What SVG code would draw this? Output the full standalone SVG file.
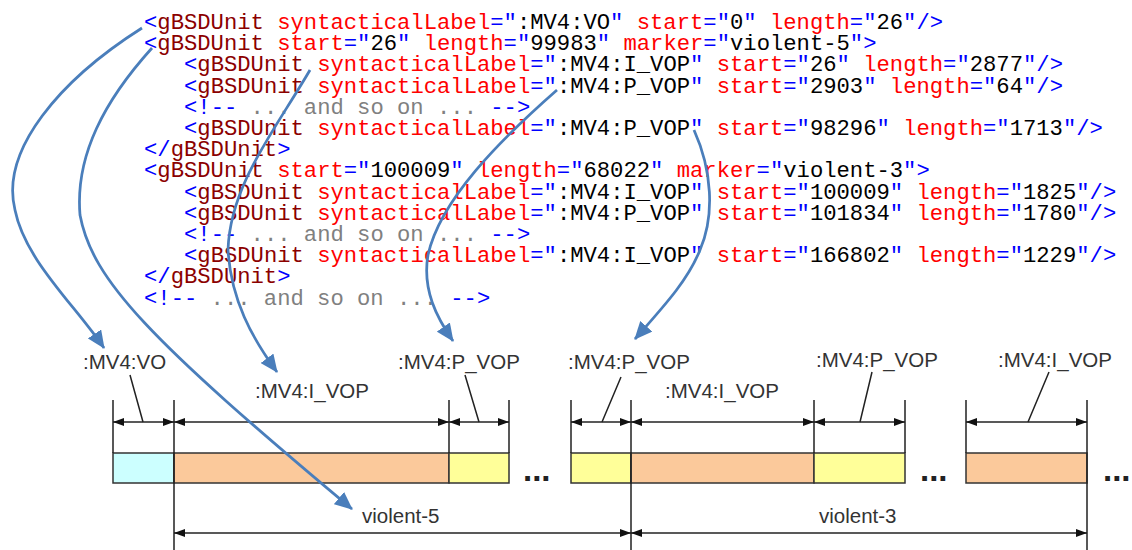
<svg xmlns="http://www.w3.org/2000/svg" width="1132" height="550" viewBox="0 0 1132 550">
  <defs>
    <style>
      .code { font-family: "Liberation Mono", "DejaVu Sans Mono", monospace; font-size: 22.2px; fill: #000; }
      .d { fill: #0000ff; }
      .e { fill: #8b0000; }
      .a { fill: #ff0000; }
      .c { fill: #808080; }
      .lbl { font-family: "Liberation Sans", Arial, sans-serif; font-size: 20.5px; fill: #333; }
      .dots { font-family: "Liberation Sans", Arial, sans-serif; font-size: 33px; font-weight: bold; fill: #222; }
      .seg { stroke: #333; stroke-width: 1.5; }
      .vo { fill: #ccffff; }
      .ivop { fill: #fbc99b; }
      .pvop { fill: #ffff99; }
      .tick { stroke: #222; stroke-width: 1.5; fill: none; }
      .dim { stroke: #222; stroke-width: 1.5; fill: none; marker-start: url(#dimhead); marker-end: url(#dimhead); }
      .lead { stroke: #222; stroke-width: 1.5; fill: none; }
      .link { stroke: #4a7ebb; stroke-width: 2.75; fill: none; marker-end: url(#linkhead); }
    </style>
    <marker id="dimhead" markerUnits="userSpaceOnUse" markerWidth="11" markerHeight="8" refX="11" refY="4" orient="auto-start-reverse">
      <path d="M0,0 L11,4 L0,8 z" fill="#111"/>
    </marker>
    <marker id="linkhead" markerUnits="userSpaceOnUse" markerWidth="18" markerHeight="16" refX="17" refY="8" orient="auto">
      <path d="M0,0 L18,8 L0,16 z" fill="#4a7ebb"/>
    </marker>
  </defs>

  <rect width="1132" height="550" fill="#fff"/>

  <!-- gBSD listing -->
  <g id="code" class="code" xml:space="preserve">
    <text x="144" y="29"><tspan class="d">&lt;</tspan><tspan class="e">gBSDUnit</tspan> <tspan class="a">syntacticalLabel</tspan><tspan class="d">="</tspan>:MV4:VO<tspan class="d">"</tspan> <tspan class="a">start</tspan><tspan class="d">="</tspan>0<tspan class="d">"</tspan> <tspan class="a">length</tspan><tspan class="d">="</tspan>26<tspan class="d">"/&gt;</tspan></text>
    <text x="144" y="50.2"><tspan class="d">&lt;</tspan><tspan class="e">gBSDUnit</tspan> <tspan class="a">start</tspan><tspan class="d">="</tspan>26<tspan class="d">"</tspan> <tspan class="a">length</tspan><tspan class="d">="</tspan>99983<tspan class="d">"</tspan> <tspan class="a">marker</tspan><tspan class="d">="</tspan>violent-5<tspan class="d">"&gt;</tspan></text>
    <text x="184" y="71.4"><tspan class="d">&lt;</tspan><tspan class="e">gBSDUnit</tspan> <tspan class="a">syntacticalLabel</tspan><tspan class="d">="</tspan>:MV4:I_VOP<tspan class="d">"</tspan> <tspan class="a">start</tspan><tspan class="d">="</tspan>26<tspan class="d">"</tspan> <tspan class="a">length</tspan><tspan class="d">="</tspan>2877<tspan class="d">"/&gt;</tspan></text>
    <text x="184" y="92.6"><tspan class="d">&lt;</tspan><tspan class="e">gBSDUnit</tspan> <tspan class="a">syntacticalLabel</tspan><tspan class="d">="</tspan>:MV4:P_VOP<tspan class="d">"</tspan> <tspan class="a">start</tspan><tspan class="d">="</tspan>2903<tspan class="d">"</tspan> <tspan class="a">length</tspan><tspan class="d">="</tspan>64<tspan class="d">"/&gt;</tspan></text>
    <text x="184" y="113.8"><tspan class="d">&lt;!--</tspan> <tspan class="c">... and so on ...</tspan> <tspan class="d">--&gt;</tspan></text>
    <text x="184" y="135"><tspan class="d">&lt;</tspan><tspan class="e">gBSDUnit</tspan> <tspan class="a">syntacticalLabel</tspan><tspan class="d">="</tspan>:MV4:P_VOP<tspan class="d">"</tspan> <tspan class="a">start</tspan><tspan class="d">="</tspan>98296<tspan class="d">"</tspan> <tspan class="a">length</tspan><tspan class="d">="</tspan>1713<tspan class="d">"/&gt;</tspan></text>
    <text x="144" y="156.2"><tspan class="d">&lt;/</tspan><tspan class="e">gBSDUnit</tspan><tspan class="d">&gt;</tspan></text>
    <text x="144" y="177.4"><tspan class="d">&lt;</tspan><tspan class="e">gBSDUnit</tspan> <tspan class="a">start</tspan><tspan class="d">="</tspan>100009<tspan class="d">"</tspan> <tspan class="a">length</tspan><tspan class="d">="</tspan>68022<tspan class="d">"</tspan> <tspan class="a">marker</tspan><tspan class="d">="</tspan>violent-3<tspan class="d">"&gt;</tspan></text>
    <text x="184" y="198.6"><tspan class="d">&lt;</tspan><tspan class="e">gBSDUnit</tspan> <tspan class="a">syntacticalLabel</tspan><tspan class="d">="</tspan>:MV4:I_VOP<tspan class="d">"</tspan> <tspan class="a">start</tspan><tspan class="d">="</tspan>100009<tspan class="d">"</tspan> <tspan class="a">length</tspan><tspan class="d">="</tspan>1825<tspan class="d">"/&gt;</tspan></text>
    <text x="184" y="219.8"><tspan class="d">&lt;</tspan><tspan class="e">gBSDUnit</tspan> <tspan class="a">syntacticalLabel</tspan><tspan class="d">="</tspan>:MV4:P_VOP<tspan class="d">"</tspan> <tspan class="a">start</tspan><tspan class="d">="</tspan>101834<tspan class="d">"</tspan> <tspan class="a">length</tspan><tspan class="d">="</tspan>1780<tspan class="d">"/&gt;</tspan></text>
    <text x="184" y="241"><tspan class="d">&lt;!--</tspan> <tspan class="c">... and so on ...</tspan> <tspan class="d">--&gt;</tspan></text>
    <text x="184" y="262.2"><tspan class="d">&lt;</tspan><tspan class="e">gBSDUnit</tspan> <tspan class="a">syntacticalLabel</tspan><tspan class="d">="</tspan>:MV4:I_VOP<tspan class="d">"</tspan> <tspan class="a">start</tspan><tspan class="d">="</tspan>166802<tspan class="d">"</tspan> <tspan class="a">length</tspan><tspan class="d">="</tspan>1229<tspan class="d">"/&gt;</tspan></text>
    <text x="144" y="283.4"><tspan class="d">&lt;/</tspan><tspan class="e">gBSDUnit</tspan><tspan class="d">&gt;</tspan></text>
    <text x="144" y="304.6"><tspan class="d">&lt;!--</tspan> <tspan class="c">... and so on ...</tspan> <tspan class="d">--&gt;</tspan></text>
  </g>

  <!-- bitstream segments -->
  <g id="seg-vo"><rect class="seg vo" x="113" y="453" width="61" height="30"/></g>
  <g id="seg-ivop-1"><rect class="seg ivop" x="174" y="453" width="275" height="30"/></g>
  <g id="seg-pvop-1"><rect class="seg pvop" x="449" y="453" width="60" height="30"/></g>
  <g id="seg-pvop-2"><rect class="seg pvop" x="571" y="453" width="60" height="30"/></g>
  <g id="seg-ivop-2"><rect class="seg ivop" x="631" y="453" width="183" height="30"/></g>
  <g id="seg-pvop-3"><rect class="seg pvop" x="814" y="453" width="91" height="30"/></g>
  <g id="seg-ivop-3"><rect class="seg ivop" x="966" y="453" width="121" height="30"/></g>

  <g id="ellipses">
    <text class="dots" x="523" y="481">...</text>
    <text class="dots" x="920" y="481">...</text>
    <text class="dots" x="1103" y="481">...</text>
  </g>

  <!-- extension lines and dimension arrows -->
  <g id="dimensions">
    <path class="tick" d="M113,400V453 M449,400V453 M509,400V453 M571,400V453 M814,400V453 M905,400V453 M966,400V453"/>
    <path class="tick" d="M174,400V550 M631,400V550 M1087,400V550"/>
    <line class="dim" x1="113" y1="422" x2="174" y2="422"/>
    <line class="dim" x1="174" y1="422" x2="449" y2="422"/>
    <line class="dim" x1="449" y1="422" x2="509" y2="422"/>
    <line class="dim" x1="571" y1="422" x2="631" y2="422"/>
    <line class="dim" x1="631" y1="422" x2="814" y2="422"/>
    <line class="dim" x1="814" y1="422" x2="905" y2="422"/>
    <line class="dim" x1="966" y1="422" x2="1087" y2="422"/>
    <line class="dim" x1="174" y1="533" x2="631" y2="533"/>
    <line class="dim" x1="631" y1="533" x2="1087" y2="533"/>
    <path class="lead" d="M130,375L143,422 M465,375L479,422 M621,377L602,422 M872,372L860,422 M1049,372L1028,422"/>
  </g>

  <g id="labels" class="lbl">
    <text x="83" y="369">:MV4:VO</text>
    <text x="255" y="398">:MV4:I_VOP</text>
    <text x="398" y="369">:MV4:P_VOP</text>
    <text x="568" y="369">:MV4:P_VOP</text>
    <text x="665" y="398">:MV4:I_VOP</text>
    <text x="816" y="367">:MV4:P_VOP</text>
    <text x="998" y="367">:MV4:I_VOP</text>
    <text x="362" y="523">violent-5</text>
    <text x="819" y="523">violent-3</text>
  </g>

  <!-- links from listing entries to segments -->
  <g id="connectors">
    <path class="link" d="M142,28 C60,80 0,150 15,210 C25,260 75,305 104,348"/>
    <path class="link" d="M152,48 C105,100 75,155 80,215 C92,280 150,340 352,509"/>
    <path class="link" d="M310,70 C275,130 230,185 228,250 C231,300 252,338 277,372"/>
    <path class="link" d="M557,90 C500,140 440,200 428,255 C422,290 437,318 453,341"/>
    <path class="link" d="M694,130 C712,170 715,215 700,250 C688,280 665,305 635,339"/>
  </g>
</svg>
